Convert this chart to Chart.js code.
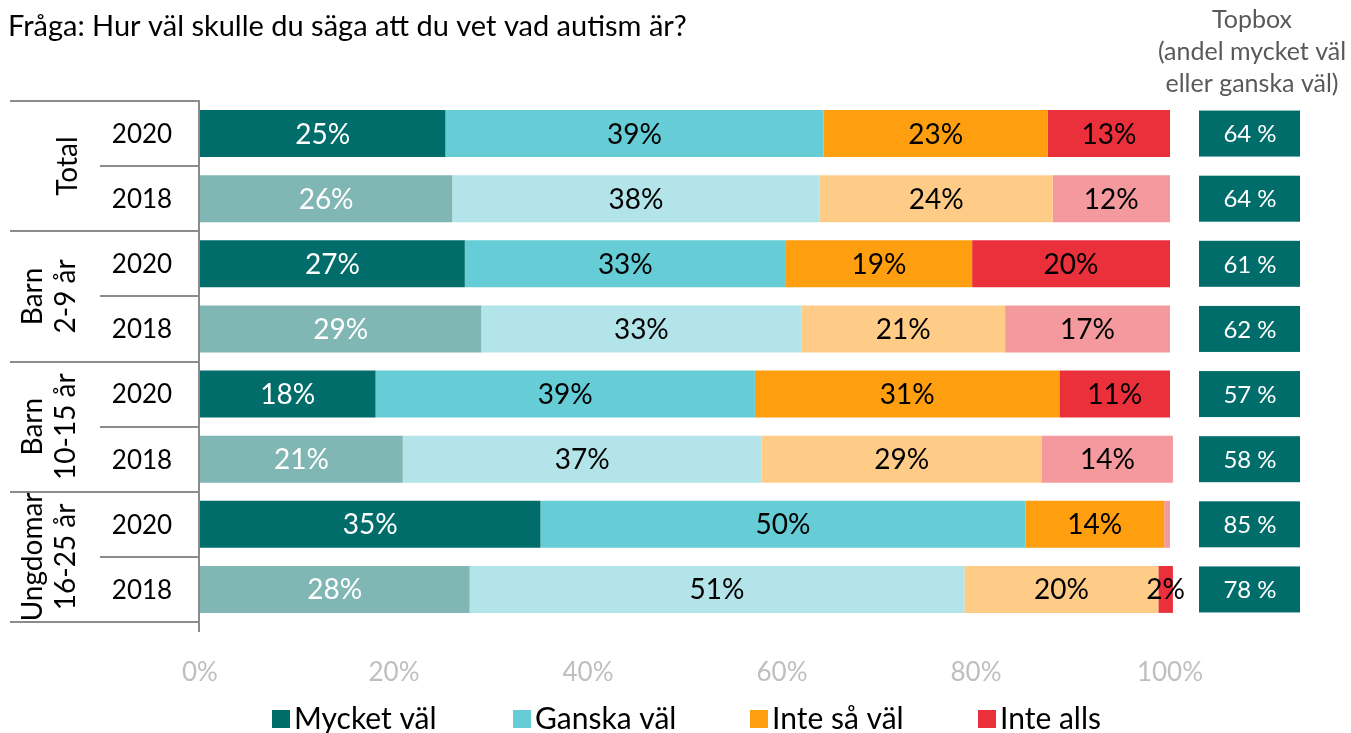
<!DOCTYPE html>
<html>
<head>
<meta charset="utf-8">
<script src="https://cdn.jsdelivr.net/npm/chart.js@4"></script>
<style>
  html, body { margin: 0; padding: 0; background: #fff; }
  #wrap { width: 1351px; height: 733px; }
</style>
</head>
<body>
<div id="wrap"><canvas id="chart-1" width="1351" height="733"></canvas></div>
<script>
const FONT = "Lato, 'Open Sans', sans-serif";

const groups = [["Total"], ["Barn", "2-9 år"], ["Barn", "10-15 år"], ["Ungdomar", "16-25 år"]];
const years = ["2020", "2018", "2020", "2018", "2020", "2018", "2020", "2018"];
const rows = ["Total 2020", "Total 2018", "Barn 2-9 2020", "Barn 2-9 2018",
              "Barn 10-15 2020", "Barn 10-15 2018", "Ungdomar 2020", "Ungdomar 2018"];

const mycketVal = [25.3, 26.0, 27.3, 29.0, 18.1, 20.9, 35.1, 27.8];
const ganskaVal = [39.0, 37.9, 33.1, 33.0, 39.1, 37.0, 50.0, 51.0];
const inteSaVal = [23.1, 24.0, 19.2, 21.0, 31.4, 28.9, 14.3, 20.0];
const inteAlls  = [12.6, 12.1, 20.4, 17.0, 11.4, 13.5, 0.6, 1.5];
const topbox    = [64, 64, 61, 62, 57, 58, 85, 78];
const xTicks    = [0, 20, 40, 60, 80, 100];

// 2020 rows strong colour, 2018 rows pale colour
function alt(strong, pale) {
  return years.map(y => y === "2020" ? strong : pale);
}
const redCols = alt("#e9303b", "#f4999d");
redCols[6] = "#f4999d";
redCols[7] = "#e9303b";

const ctx1 = document.getElementById("chart-1").getContext("2d");

const overlay = {
  id: "overlay",
  afterDatasetsDraw(chart) {
    const c = chart.ctx;
    const ys = chart.scales.y;
    const step = ys.getPixelForValue(1) - ys.getPixelForValue(0);
    c.save();

    // data labels inside segments
    c.font = "28px " + FONT;
    c.textAlign = "center";
    c.textBaseline = "middle";
    chart.data.datasets.forEach((ds, di) => {
      chart.getDatasetMeta(di).data.forEach((bar, i) => {
        const v = ds.data[i];
        if (v < 1) return;
        c.fillStyle = di === 0 ? "#fff" : "#000";
        c.fillText(Math.round(v) + "%", (bar.base + bar.x) / 2, bar.y + 1);
      });
    });

    // left table lines
    c.strokeStyle = "#8c8c8c";
    c.lineWidth = 2;
    const axX = 199;
    c.beginPath();
    c.moveTo(axX, ys.getPixelForValue(0) - step / 2);
    c.lineTo(axX, ys.getPixelForValue(7) + step / 2 + 10);
    for (let i = 0; i <= 8; i++) {
      const yy = Math.round(ys.getPixelForValue(i) - step / 2);
      const x0 = i % 2 === 0 ? 10 : 100;
      c.moveTo(x0, yy);
      c.lineTo(axX + 1, yy);
    }
    c.stroke();

    // year labels
    c.fillStyle = "#000";
    c.font = "26px " + FONT;
    years.forEach((y, i) => c.fillText(y, 142, ys.getPixelForValue(i) + 1));

    // group labels (rotated)
    c.font = "28px " + FONT;
    groups.forEach((g, gi) => {
      const cy = (ys.getPixelForValue(gi * 2) + ys.getPixelForValue(gi * 2 + 1)) / 2;
      const xs = g.length === 1 ? [68] : [33, 66];
      g.forEach((t, li) => {
        c.save();
        c.translate(xs[li], cy);
        c.rotate(-Math.PI / 2);
        c.fillText(t, 0, 0);
        c.restore();
      });
    });

    // topbox
    topbox.forEach((v, i) => {
      const cy = ys.getPixelForValue(i);
      c.fillStyle = "#006d6a";
      c.fillRect(1199, cy - 23, 101, 46);
      c.fillStyle = "#fff";
      c.font = "24px " + FONT;
      c.fillText(v + " %", 1250, cy + 1);
    });

    // header
    c.fillStyle = "#595959";
    c.font = "25px " + FONT;
    ["Topbox", "(andel mycket väl", "eller ganska väl)"].forEach((t, i) => c.fillText(t, 1252, 20 + i * 32));

    // title
    c.fillStyle = "#000";
    c.font = "29px " + FONT;
    c.textAlign = "left";
    c.fillText("Fråga: Hur väl skulle du säga att du vet vad autism är?", 8, 27);

    // legend
    const legend = [["Mycket väl", "#006d6a", 272], ["Ganska väl", "#66ccd6", 513],
                    ["Inte så väl", "#ff9e0f", 750], ["Inte alls", "#e9303b", 978]];
    c.font = "30px " + FONT;
    legend.forEach(([t, col, x]) => {
      c.fillStyle = col;
      c.fillRect(x, 710, 18, 18);
      c.fillStyle = "#000";
      c.fillText(t, x + 22, 719);
    });
    c.restore();
  }
};

new Chart(ctx1, {
  type: "bar",
  data: {
    labels: rows,
    datasets: [
      { label: "Mycket väl", data: mycketVal, backgroundColor: alt("#006d6a", "#80b6b3") },
      { label: "Ganska väl", data: ganskaVal, backgroundColor: alt("#66ccd6", "#b2e4ea") },
      { label: "Inte så väl", data: inteSaVal, backgroundColor: alt("#ff9e0f", "#ffcc88") },
      { label: "Inte alls", data: inteAlls, backgroundColor: redCols }
    ]
  },
  options: {
    indexAxis: "y",
    responsive: false,
    animation: false,
    events: [],
    layout: { padding: { left: 200, right: 181, top: 101, bottom: 0 } },
    datasets: { bar: { categoryPercentage: 1, barPercentage: 0.72, clip: false } },
    plugins: { legend: { display: false }, tooltip: { enabled: false } },
    scales: {
      x: {
        stacked: true,
        min: 0,
        max: 100,
        afterFit(scale) { scale.height = 111; },
        afterBuildTicks(scale) { scale.ticks = xTicks.map(v => ({ value: v })); },
        grid: { display: false },
        border: { display: false },
        ticks: {
          color: "#bfbfbf",
          padding: 27,
          font: { family: FONT, size: 26 },
          callback: v => v + "%"
        }
      },
      y: { stacked: true, display: false }
    }
  },
  plugins: [overlay]
});
</script>
</body>
</html>
